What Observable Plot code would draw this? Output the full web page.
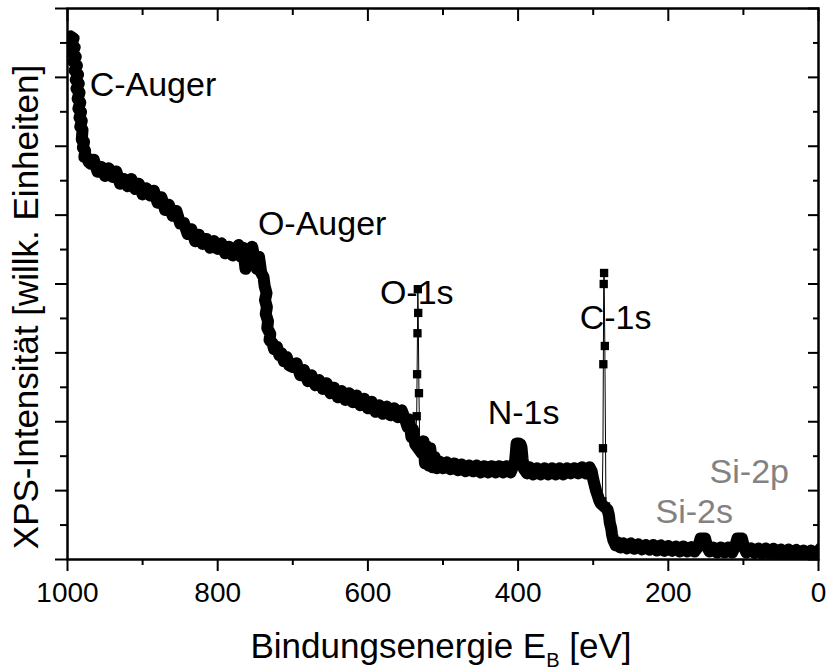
<!DOCTYPE html>
<html>
<head>
<meta charset="utf-8">
<script src="https://cdn.jsdelivr.net/npm/d3@7"></script>
<script src="https://cdn.jsdelivr.net/npm/@observablehq/plot@0.6"></script>
<style>
  html, body { margin: 0; padding: 0; background: #fff; }
  #chart { width: 826px; height: 672px; }
</style>
</head>
<body>
<div id="chart"></div>
<script>
// ---- Data: binding energy (eV) and XPS intensity (arbitrary units) ----
const cAugerEdgeE = [1000, 996, 992, 995, 990.5, 993.5, 989, 992, 987.5, 990.5, 986, 989, 985, 988, 984, 986.5, 983, 985.5, 982, 984, 981, 983, 980, 981, 978, 979.5, 976.5, 977.5, 974, 972, 969];
const cAugerEdgeI = [15.16, 15.19, 15.13, 14.95, 14.87, 14.72, 14.60, 14.46, 14.34, 14.20, 14.08, 13.93, 13.82, 13.67, 13.56, 13.38, 13.27, 13.09, 13.00, 12.83, 12.74, 12.57, 12.48, 12.19, 12.13, 11.96, 11.87, 11.69, 11.67, 11.55, 11.49];

const upperSlopeE = [965, 960, 955, 950, 945, 940, 935, 930, 925, 920, 915, 910, 905, 900, 895, 890, 885, 880, 875, 870, 865, 860, 855, 850, 845, 840, 835, 830, 825, 820, 815, 810, 805, 800, 795, 790, 785, 780, 775];
const upperSlopeI = [11.61, 11.26, 11.40, 11.14, 11.36, 11.11, 11.27, 10.91, 11.05, 10.84, 11.05, 10.76, 10.91, 10.60, 10.78, 10.57, 10.71, 10.36, 10.52, 10.15, 10.30, 9.98, 10.12, 9.76, 9.77, 9.45, 9.59, 9.24, 9.43, 9.16, 9.31, 9.05, 9.25, 9.02, 9.18, 8.89, 9.08, 8.83, 9.05];

const oAugerE = [772, 769, 766, 763, 760, 757, 754, 751, 748, 745, 742, 739, 737.5, 735, 737, 734.5, 736, 733, 734, 730, 731, 727, 725, 721, 718, 715, 712, 708, 705];
const oAugerI = [9.13, 8.79, 9.05, 8.44, 8.73, 8.90, 9.08, 8.73, 8.44, 8.79, 8.32, 8.20, 7.94, 7.74, 7.53, 7.33, 7.13, 6.92, 6.72, 6.55, 6.37, 6.28, 6.11, 6.17, 5.93, 5.99, 5.76, 5.88, 5.64];

const midSlopeE = [700, 695, 690, 685, 680, 675, 670, 665, 660, 655, 650, 645, 640, 635, 630, 625, 620, 615, 610, 605, 600, 595, 590, 585, 580, 575, 570, 565, 560, 555, 550, 547, 545, 542, 540, 537];
const midSlopeI = [5.59, 5.70, 5.35, 5.50, 5.18, 5.35, 5.06, 5.21, 4.95, 5.12, 4.83, 4.99, 4.71, 4.89, 4.63, 4.83, 4.57, 4.76, 4.48, 4.67, 4.39, 4.58, 4.29, 4.48, 4.23, 4.44, 4.19, 4.39, 4.13, 4.33, 4.04, 3.84, 4.07, 3.55, 3.78, 3.35];

const o1sE = [535, 534.5, 534, 533.5, 533, 532, 531];
const o1sI = [4.16, 5.38, 6.57, 7.85, 7.16, 4.83, 3.29];

const plateauE = [528, 526, 524, 522, 519, 517, 514, 511, 508, 505, 500, 495, 490, 485, 480, 475, 470, 465, 460, 455, 450, 445, 440, 435, 430, 425, 420, 415, 410, 404, 402, 399.5, 397, 395.5, 394, 392, 388, 385, 380, 375, 370, 365, 360, 355, 350, 345, 340, 335, 330, 325, 320, 315, 310, 305, 302, 300, 298, 296, 294, 292, 290];
const plateauI = [3.08, 3.43, 2.79, 3.29, 2.73, 3.23, 2.68, 2.97, 2.65, 2.85, 2.65, 2.82, 2.62, 2.79, 2.59, 2.76, 2.56, 2.73, 2.56, 2.73, 2.53, 2.71, 2.53, 2.71, 2.53, 2.71, 2.53, 2.71, 2.53, 2.85, 3.37, 3.37, 3.35, 3.26, 2.91, 2.62, 2.50, 2.68, 2.47, 2.65, 2.47, 2.65, 2.47, 2.65, 2.47, 2.65, 2.47, 2.65, 2.50, 2.65, 2.50, 2.68, 2.50, 2.68, 2.56, 2.33, 2.15, 1.98, 1.86, 1.72, 1.63];

const c1sPeakE = [288, 287, 286.5, 286, 285.5, 284.5, 283];
const c1sPeakI = [1.69, 3.23, 5.67, 8.00, 8.32, 6.20, 1.54];

const c1sTailE = [281, 279, 278, 276, 275, 273, 270, 267];
const c1sTailI = [1.45, 1.28, 1.08, 0.90, 0.73, 0.55, 0.41, 0.49];

const baselineE = [264, 260, 255, 250, 245, 240, 235, 230, 225, 220, 215, 210, 205, 200, 195, 190, 185, 180, 175, 170, 165, 160, 157, 154, 151, 148, 145, 140, 135, 130, 125, 120, 115, 111, 108, 105, 102, 99, 96, 90, 85, 80, 75, 70, 65, 60, 55, 50, 45, 40, 35, 30, 25, 20, 15, 10, 5, 0];
const baselineI = [0.35, 0.47, 0.32, 0.47, 0.31, 0.44, 0.29, 0.42, 0.28, 0.42, 0.26, 0.41, 0.25, 0.39, 0.25, 0.38, 0.23, 0.38, 0.23, 0.36, 0.23, 0.38, 0.61, 0.61, 0.61, 0.35, 0.23, 0.35, 0.20, 0.35, 0.20, 0.35, 0.20, 0.38, 0.61, 0.61, 0.61, 0.35, 0.20, 0.33, 0.19, 0.32, 0.17, 0.32, 0.17, 0.31, 0.16, 0.29, 0.16, 0.29, 0.15, 0.28, 0.15, 0.26, 0.15, 0.26, 0.13, 0.25];

// peak annotations (anchor in data coordinates: left edge / baseline of the text)
const peakLabels = ["C-Auger", "O-Auger", "O-1s", "C-1s", "N-1s", "Si-2p", "Si-2s"];
const peakLabelE = [970.5, 746.5, 584, 318, 440.5, 145, 217];
const peakLabelI = [13.47, 9.43, 7.42, 6.69, 3.93, 2.21, 1.05];
const peakLabelTone = ["main", "main", "main", "main", "main", "minor", "minor"];

// axis ticks
const xMajorTicks = [1000, 800, 600, 400, 200, 0];
const xMinorTicks = [900, 700, 500, 300, 100];
const yMajorTicks = [0, 2, 4, 6, 8, 10, 12, 14, 16];
const yMinorTicks = [1, 3, 5, 7, 9, 11, 13, 15];

const xTitleMain = "Bindungsenergie E";
const xTitleSub = "B";
const xTitleUnit = " [eV]";
const yTitle = "XPS-Intensität [willk. Einheiten]";

// ---- Build tables ----
const toRows = (E, I) => E.map((e, i) => ({e, v: I[i]}));
const spectrum = [
  ...toRows(cAugerEdgeE, cAugerEdgeI), ...toRows(upperSlopeE, upperSlopeI), ...toRows(oAugerE, oAugerI),
  ...toRows(midSlopeE, midSlopeI), ...toRows(o1sE, o1sI), ...toRows(plateauE, plateauI),
  ...toRows(c1sPeakE, c1sPeakI), ...toRows(c1sTailE, c1sTailI), ...toRows(baselineE, baselineI)
];
// the dense noisy background band (everything except the two sharp photo-lines)
const band = [
  ...toRows(cAugerEdgeE, cAugerEdgeI), ...toRows(upperSlopeE, upperSlopeI), ...toRows(oAugerE, oAugerI),
  ...toRows(midSlopeE, midSlopeI), ...toRows(plateauE, plateauI),
  ...toRows(c1sTailE, c1sTailI), ...toRows(baselineE, baselineI)
];
const labels = peakLabels.map((t, i) => ({t, e: peakLabelE[i], v: peakLabelI[i], tone: peakLabelTone[i]}));

const W = 826, H = 672;
const chart = Plot.plot({
  width: W,
  height: H,
  marginLeft: 67,
  marginRight: 8,
  marginTop: 8,
  marginBottom: 113,
  style: {
    fontFamily: '"Liberation Sans", Arial, Helvetica, sans-serif',
    fontSize: "28px",
    color: "black",
    background: "white",
    overflow: "visible"
  },
  x: {domain: [1000, 0]},
  y: {domain: [0, 16]},
  marks: [
    Plot.text(labels.filter(d => d.tone === "main"), {x: "e", y: "v", text: "t", textAnchor: "start", lineAnchor: "bottom", fontSize: 34, fill: "black"}),
    Plot.text(labels.filter(d => d.tone === "minor"), {x: "e", y: "v", text: "t", textAnchor: "start", lineAnchor: "bottom", fontSize: 34, fill: "#828282"}),
    Plot.line(band, {x: "e", y: "v", stroke: "black", strokeWidth: 12, strokeLinejoin: "round", strokeLinecap: "square", clip: true}),
    Plot.line(spectrum, {x: "e", y: "v", stroke: "black", strokeWidth: 1, clip: true}),
    Plot.dot(spectrum, {x: "e", y: "v", symbol: "square", r: 4.7, fill: "black", stroke: "none", clip: true}),
    Plot.frame({stroke: "black", strokeWidth: 2.5}),
    // bottom: outward ticks with labels
    Plot.axisX({ticks: xMajorTicks, tickSize: 12, tickPadding: 11, strokeWidth: 2, tickFormat: "d", label: null, fontSize: 28}),
    Plot.axisX({ticks: xMinorTicks, tickSize: 6, strokeWidth: 2, fill: "none", label: null}),
    // top: inward ticks
    Plot.axisX({anchor: "top", ticks: xMajorTicks, tickSize: -12, strokeWidth: 2, fill: "none", label: null}),
    Plot.axisX({anchor: "top", ticks: xMinorTicks, tickSize: -6, strokeWidth: 2, fill: "none", label: null}),
    // left: outward ticks, no labels
    Plot.axisY({ticks: yMajorTicks, tickSize: 12, strokeWidth: 2, fill: "none", label: null}),
    Plot.axisY({ticks: yMinorTicks, tickSize: 7, strokeWidth: 2, fill: "none", label: null}),
    // right: inward ticks
    Plot.axisY({anchor: "right", ticks: yMajorTicks, tickSize: -11, strokeWidth: 2, fill: "none", label: null}),
    Plot.axisY({anchor: "right", ticks: yMinorTicks, tickSize: -6, strokeWidth: 2, fill: "none", label: null})
  ]
});

document.getElementById("chart").appendChild(chart);

// axis titles (with subscript)
const svg = d3.select(chart);
const xt = svg.append("text")
  .attr("x", 441)
  .attr("y", 658)
  .attr("text-anchor", "middle")
  .attr("font-size", 35)
  .attr("fill", "black");
xt.append("tspan").text(xTitleMain);
xt.append("tspan").attr("font-size", 20).attr("dy", 9).text(xTitleSub);
xt.append("tspan").attr("dy", -9).text(xTitleUnit);

svg.append("text")
  .attr("transform", "translate(37.5,307) rotate(-90)")
  .attr("text-anchor", "middle")
  .attr("font-size", 35)
  .attr("fill", "black")
  .text(yTitle);
</script>
</body>
</html>
